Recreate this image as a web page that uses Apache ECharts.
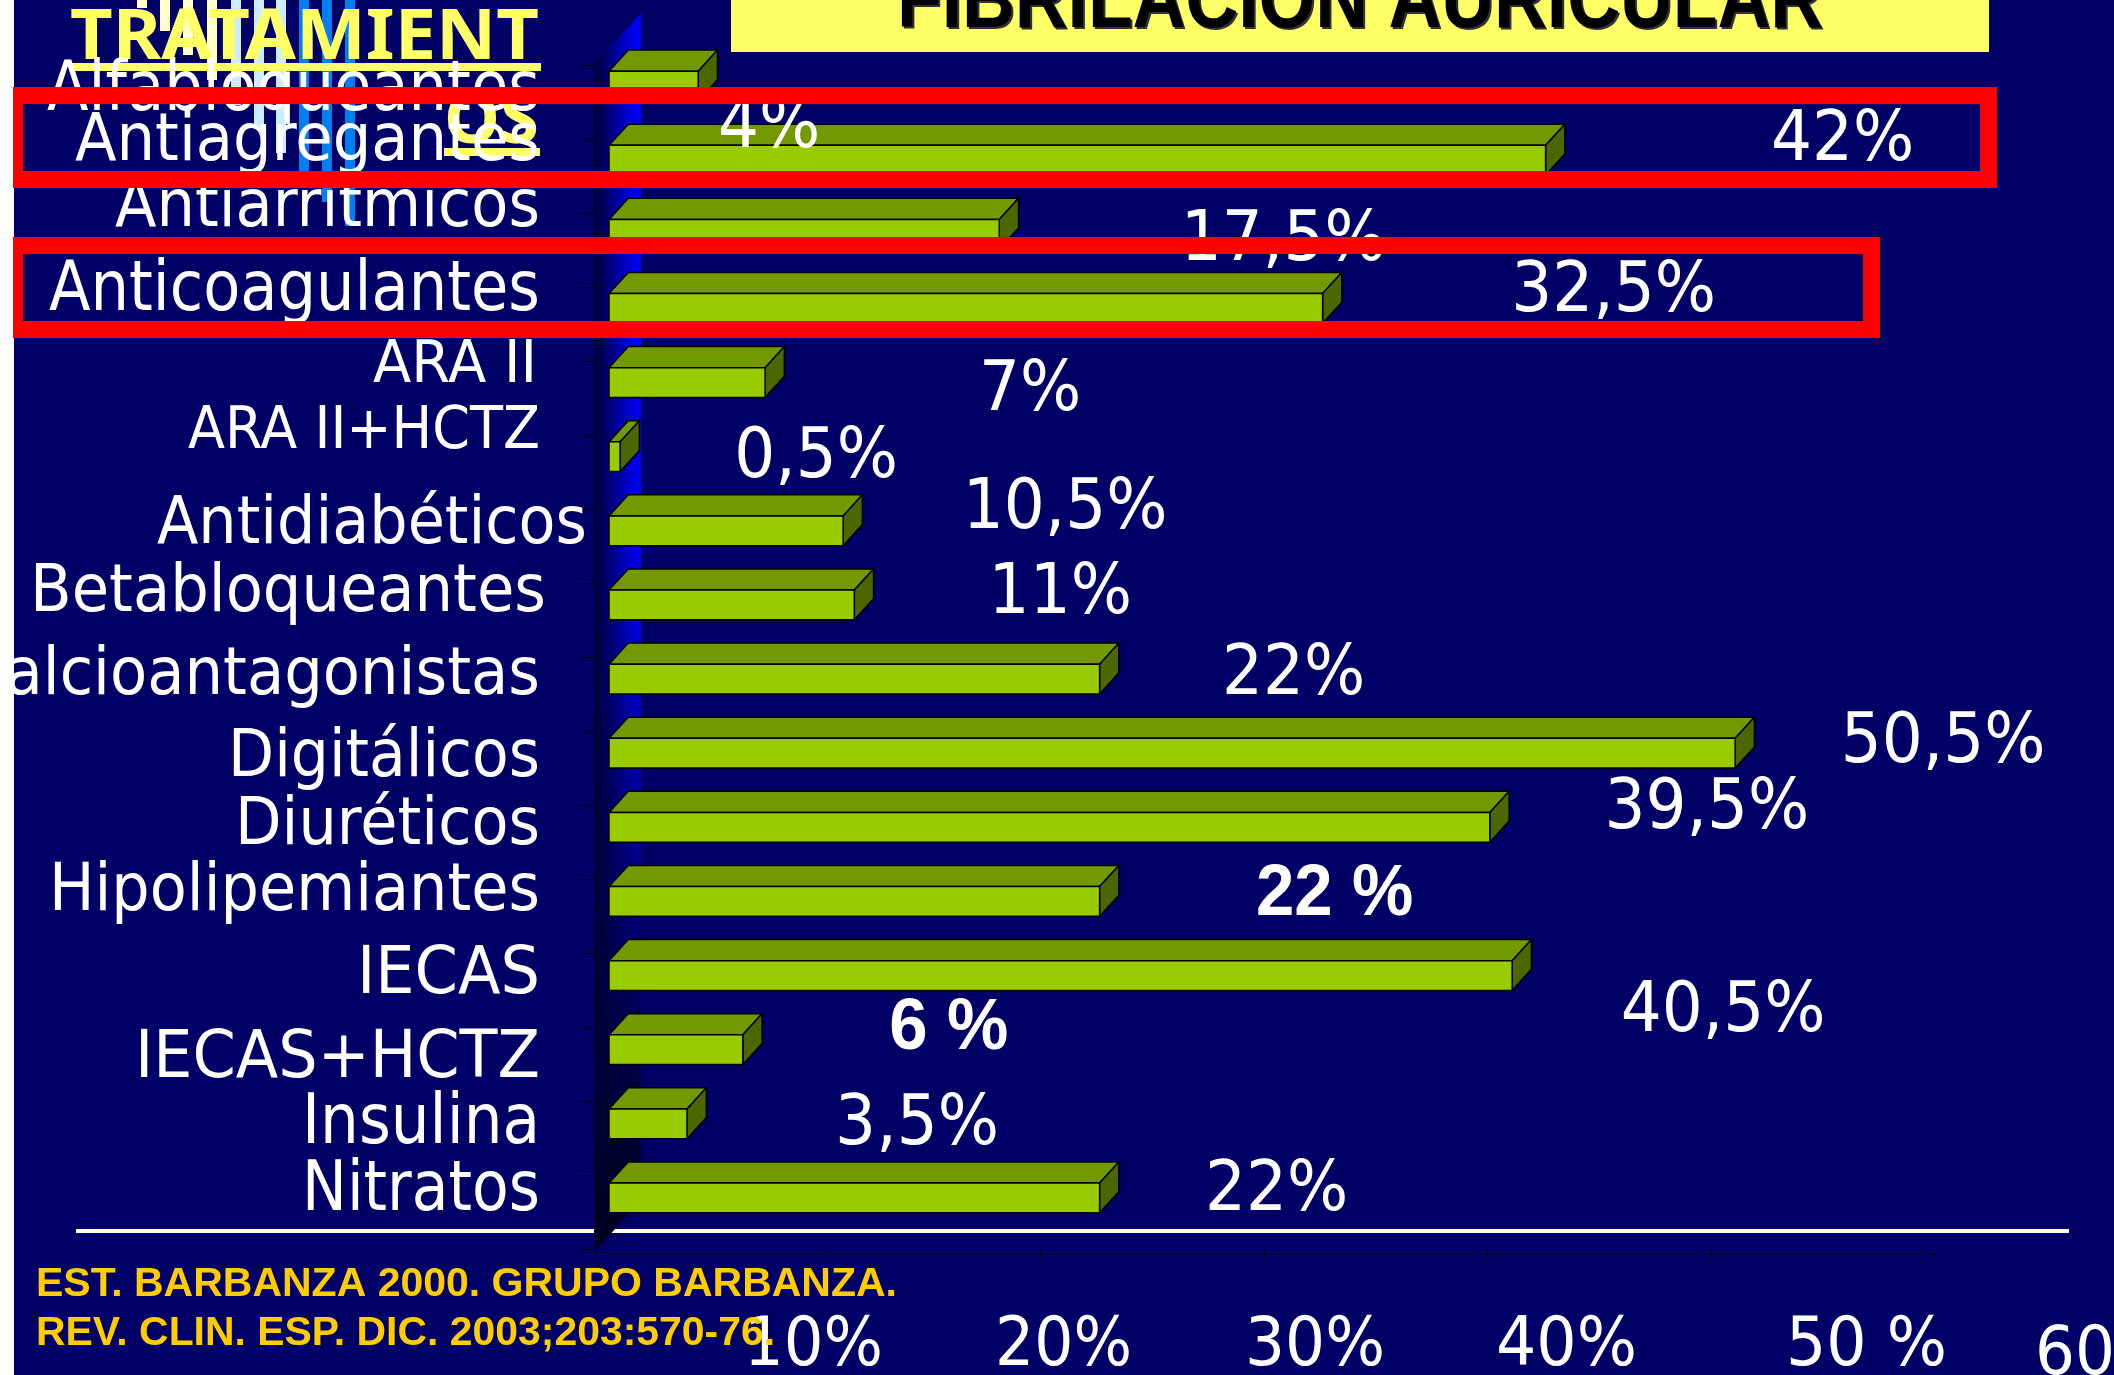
<!DOCTYPE html>
<html>
<head>
<meta charset="utf-8">
<style>
  html, body { margin: 0; padding: 0; background: #000066; }
  #chart { width: 2114px; height: 1375px; }
</style>
<script src="https://cdn.jsdelivr.net/npm/echarts@6/dist/echarts.min.js"></script>
</head>
<body>
<div id="chart"></div>
<script>
const categories = ["Alfabloqueantes", "Antiagregantes", "Antiarrítmicos", "Anticoagulantes", "ARA II", "ARA II+HCTZ", "Antidiabéticos", "Betabloqueantes", "Calcioantagonistas", "Digitálicos", "Diuréticos", "Hipolipemiantes", "IECAS", "IECAS+HCTZ", "Insulina", "Nitratos"];
// bar lengths as drawn, the anticoagulantes bar stops at 32 even though its label says 32,5%
const percentages = [4, 42, 17.5, 32, 7, 0.5, 10.5, 11, 22, 50.5, 39.5, 22, 40.5, 6, 3.5, 22];
const valueLabels = ["4%", "42%", "17,5%", "32,5%", "7%", "0,5%", "10,5%", "11%", "22%", "50,5%", "39,5%", "22 %", "40,5%", "6 %", "3,5%", "22%"];
const tickValues = [0, 10, 20, 30, 40, 50, 60];
const tickLabels = ["10%", "20%", "30%", "40%", "50 %", "60"];

// the slide has its text boxes placed by hand, so they get their own layout lists
const valueLabelOffsets = [[71, 61], [297, 0], [284, 26], [291, 3], [265, 27], [196, 20], [222, -3], [206, 8], [194, 15], [208, 9], [217, 1], [235, 14], [211, 55], [206, -1], [230, 20], [177, 12]];
const boldLabels = ["22 %", "6 %"];
const categoryBoxes = [[47, 540, 110, 50], [75, 540, 160, 48], [115, 540, 226, 48], [49, 540, 310, 50], [373, 537, 382, 42], [188, 540, 448, 42], [157, 587, 543, 48], [30, 546, 611, 48], [-37, 540, 694, 48], [228, 540, 776, 48], [235, 540, 844, 48], [49, 540, 910, 48], [357, 540, 993, 48], [135, 540, 1077, 48], [302, 540, 1143, 50], [302, 540, 1210, 50]];
const tickLabelBoxes = [[744, 883, 1365], [995, 1132, 1365], [1245, 1385, 1365], [1496, 1637, 1365], [1786, 1947, 1365], [2035, 2115, 1374]];
const stripes = [[137, 8, "#FFFFCC"], [160, 31, "#FFFFCC"], [183, 55, "#FFFFCC"], [207, 80, "#FFFFCC"], [231, 105, "#CCECFF"], [254, 129, "#CCECFF"], [276, 153, "#CCECFF"], [299, 178, "#0080F0"], [322, 202, "#0080F0"], [345, 226, "#0080F0"]];

const SANS = '"DejaVu Sans"';
const ARIAL = '"Liberation Sans"';
const HEADING = '"Noto Sans"';

const ruler = document.createElement("canvas").getContext("2d");

// text stretched to the box it has on the slide, y is the baseline
function boxText(text, left, right, baseline, capHeight, family, weight, fill) {
  ruler.font = `${weight} 50px ${family}`;
  ruler.textBaseline = "middle";
  const cap = ruler.measureText("H");
  const scaleY = capHeight / (cap.actualBoundingBoxAscent + cap.actualBoundingBoxDescent);
  return {
    type: "text",
    x: left,
    y: baseline - cap.actualBoundingBoxDescent * scaleY,
    scaleX: (right - left) / ruler.measureText(text).width,
    scaleY,
    style: {
      text,
      x: 0,
      y: 0,
      fill,
      fontSize: 50,
      fontFamily: family.replace(/"/g, ""),
      fontWeight: weight,
      textAlign: "left",
      textVerticalAlign: "middle",
    },
  };
}

function barItem(params, api) {
  const i = api.value(1);
  const start = api.coord([0, i]);
  const end = api.coord([api.value(0), i]);
  const band = api.size([0, 1])[1];
  const half = band * 0.2;
  const dx = band * 0.26;
  const dy = band * 0.285;
  const top = start[1] - half;
  const bottom = start[1] + half;
  const edge = { stroke: "#000", lineWidth: 1.5, lineJoin: "miter" };
  return {
    type: "group",
    children: [
      {
        type: "polygon",
        shape: { points: [[start[0], top], [start[0] + dx, top - dy], [end[0] + dx, top - dy], [end[0], top]] },
        style: { fill: "#739900", ...edge },
      },
      {
        type: "polygon",
        shape: { points: [[end[0], top], [end[0] + dx, top - dy], [end[0] + dx, bottom - dy], [end[0], bottom]] },
        style: { fill: "#4D6600", ...edge },
      },
      {
        type: "rect",
        shape: { x: start[0], y: top, width: end[0] - start[0], height: bottom - top },
        style: { fill: "#99CC00", ...edge },
      },
    ],
  };
}

function valueLabelItem(params, api) {
  const i = api.value(1);
  const end = api.coord([api.value(0), i]);
  const text = valueLabels[i];
  const bold = boldLabels.includes(text);
  const family = bold ? ARIAL : SANS;
  ruler.font = `${bold ? "bold" : "normal"} 50px ${family}`;
  const width = ruler.measureText(text).width * (bold ? 1.38 : 1.29);
  const cx = end[0] + valueLabelOffsets[i][0];
  const baseline = end[1] + valueLabelOffsets[i][1];
  return boxText(text, cx - width / 2, cx + width / 2, baseline, 50, family, bold ? "bold" : "normal", "#fff");
}

const barData = percentages.map((value, i) => [value, i]);

const graphic = [
  { type: "rect", z: 0, shape: { x: 0, y: 0, width: 14, height: 1375 }, style: { fill: "#fff" } },
];
stripes.forEach(([x, bottom, fill]) => {
  graphic.push({ type: "rect", z: 1, shape: { x, y: 0, width: 10, height: bottom }, style: { fill } });
});
graphic.push(
  // back wall of the 3D chart
  {
    type: "polygon",
    z: 1,
    shape: { points: [[594, 65], [641, 13], [641, 1200], [594, 1252]] },
    style: {
      fill: { type: "linear", x: 0, y: 0, x2: 1, y2: 0, colorStops: [{ offset: 0, color: "#000033" }, { offset: 0.7, color: "#0000D0" }, { offset: 1, color: "#0000FF" }] },
    },
  },
  {
    type: "polygon",
    z: 1,
    shape: { points: [[594, 65], [641, 13], [641, 1200], [594, 1252]] },
    style: {
      fill: { type: "linear", x: 0, y: 0, x2: 0, y2: 1, colorStops: [{ offset: 0, color: "rgba(0,0,51,0)" }, { offset: 0.45, color: "rgba(0,0,51,0.05)" }, { offset: 0.9, color: "rgba(0,0,51,1)" }, { offset: 1, color: "rgba(0,0,30,1)" }] },
    },
  },
  { type: "rect", z: 0.5, shape: { x: 76, y: 1229, width: 1993, height: 4 }, style: { fill: "#fff" } },
  // slide title, the second copy is its shadow
  { type: "rect", z: 3, shape: { x: 731, y: 0, width: 1258, height: 52 }, style: { fill: "#FFFF66" } },
  { ...boxText("FIBRILACION AURICULAR", 899, 1825, 29, 60, ARIAL, "bold", "#333"), z: 3 },
  { ...boxText("FIBRILACION AURICULAR", 897, 1823, 27, 60, ARIAL, "bold", "#000"), z: 3 },
  { ...boxText("TRATAMIENT", 70, 539, 59, 50, HEADING, "bold", "#FFFF66"), z: 3 },
  { type: "rect", z: 3, shape: { x: 70, y: 63, width: 471, height: 8 }, style: { fill: "#FFFF66" } },
  { ...boxText("OS", 444, 539, 143, 50, HEADING, "bold", "#FFFF66"), z: 3 },
  { type: "rect", z: 3, shape: { x: 444, y: 148, width: 96, height: 8 }, style: { fill: "#FFFF66" } }
);
categories.forEach((name, i) => {
  const [left, right, baseline, cap] = categoryBoxes[i];
  graphic.push({ ...boxText(name, left, right, baseline, cap, SANS, "normal", "#fff"), z: 4 });
});
tickLabels.forEach((label, i) => {
  const [left, right, baseline] = tickLabelBoxes[i];
  graphic.push({ ...boxText(label, left, right, baseline, 49, SANS, "normal", "#fff"), z: 4 });
});
// source sits on top of the 10% label like on the slide
graphic.push(
  { ...boxText("EST. BARBANZA 2000. GRUPO BARBANZA.", 36, 897, 1296, 29, ARIAL, "bold", "#FFCC00"), z: 5 },
  { ...boxText("REV. CLIN. ESP. DIC. 2003;203:570-76.", 36, 775, 1345, 29, ARIAL, "bold", "#FFCC00"), z: 5 }
);
// highlight frames go over everything but the white edge of the slide
[[14.5, 95.5, 1974, 84], [14.5, 245.5, 1857, 84]].forEach(([x, y, width, height]) => {
  graphic.push({
    type: "rect",
    z: 50,
    shape: { x, y, width, height },
    style: { fill: "transparent", stroke: "#FF0000", lineWidth: 17 },
  });
});
graphic.push({ type: "rect", z: 60, shape: { x: 0, y: 0, width: 13, height: 1375 }, style: { fill: "#fff" } });

const option = {
  animation: false,
  backgroundColor: "#000066",
  graphic: { elements: graphic },
  grid: [
    // bars
    { left: 609, top: 49, width: 1338, height: 1186 },
    // floor and wall axes sit behind the bars
    { left: 595, top: 65, width: 1339, height: 1184 },
  ],
  xAxis: [
    { type: "value", gridIndex: 0, min: 0, max: 60, show: false },
    {
      type: "value",
      gridIndex: 1,
      min: tickValues[0],
      max: tickValues[tickValues.length - 1],
      interval: 10,
      axisLabel: { show: false },
      splitLine: { show: false },
      axisLine: { show: true, lineStyle: { color: "#000", width: 1 } },
      axisTick: { show: true, length: 8, lineStyle: { color: "#000", width: 1 } },
    },
  ],
  yAxis: [
    { type: "category", gridIndex: 0, data: categories, inverse: true, show: false },
    {
      type: "category",
      gridIndex: 1,
      data: categories,
      inverse: true,
      axisLabel: { show: false },
      axisLine: { show: true, lineStyle: { color: "#000", width: 1 } },
      axisTick: { show: true, length: 14, lineStyle: { color: "#000", width: 1 } },
    },
  ],
  series: [
    {
      name: "Tratamiento",
      type: "custom",
      xAxisIndex: 0,
      yAxisIndex: 0,
      z: 5,
      clip: false,
      data: barData,
      encode: { x: 0, y: 1 },
      renderItem: barItem,
    },
    {
      name: "Valores",
      type: "custom",
      xAxisIndex: 0,
      yAxisIndex: 0,
      z: 6,
      clip: false,
      data: barData,
      encode: { x: 0, y: 1 },
      renderItem: valueLabelItem,
    },
  ],
};

const chart = echarts.init(document.getElementById("chart"));
chart.setOption(option);
</script>
</body>
</html>
